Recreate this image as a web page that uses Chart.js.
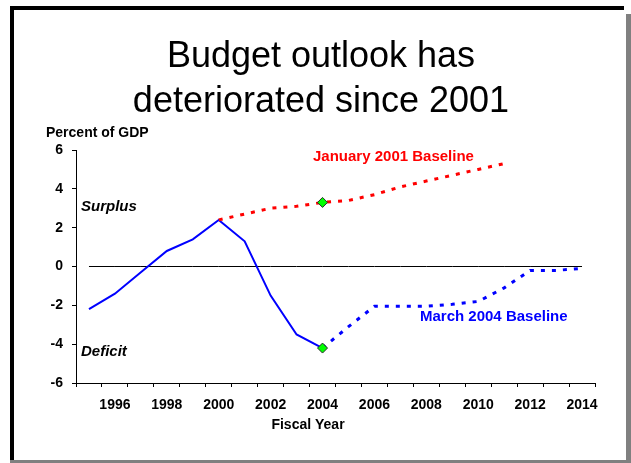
<!DOCTYPE html>
<html>
<head>
<meta charset="utf-8">
<title>Budget outlook</title>
<script src="https://cdn.jsdelivr.net/npm/chart.js@4/dist/chart.umd.min.js"></script>
<style>
  body { margin: 0; background: #fff; }
  #wrap { position: relative; width: 631px; height: 463px; overflow: hidden; }
  #budget-chart { position: absolute; left: 0; top: 0; }
  .edge { position: absolute; }
</style>
</head>
<body>
<div id="wrap">
  <canvas id="budget-chart" width="631" height="463"></canvas>
  <!-- slide frame: dark top/left, grey shadow right/bottom -->
  <div class="edge" style="left:10px;top:6px;width:614px;height:4px;background:#000"></div>
  <div class="edge" style="left:10px;top:6px;width:4px;height:455px;background:#000"></div>
  <div class="edge" style="left:626px;top:14px;width:5px;height:449px;background:#808080"></div>
  <div class="edge" style="left:10px;top:460px;width:621px;height:3px;background:#808080"></div>
</div>
<script>
// Fiscal years on the x axis
const years = ['1995', '1996', '1997', '1998', '1999', '2000', '2001', '2002', '2003', '2004',
               '2005', '2006', '2007', '2008', '2009', '2010', '2011', '2012', '2013', '2014'];

// Surplus (+) / deficit (-), percent of GDP
const actual = [-2.2, -1.4, -0.3, 0.8, 1.4, 2.4, 1.3, -1.5, -3.5, -4.2,
                null, null, null, null, null, null, null, null, null, null];
const jan2001Baseline = [null, null, null, null, null, 2.4, 2.7, 3.0, 3.1, 3.3,
                         3.4, 3.7, 4.1, 4.4, 4.7, 5.0, 5.3, null, null, null];
const mar2004Baseline = [null, null, null, null, null, null, null, null, null, -4.2,
                         -3.1, -2.05, -2.05, -2.05, -1.95, -1.8, -1.1, -0.2, -0.2, -0.1];
const zeroLine = [0, 0, 0, 0, 0, 0, 0, 0, 0, 0, 0, 0, 0, 0, 0, 0, 0, 0, 0, 0];

// y axis range and step
const yMin = -6;
const yMax = 6;
const yStep = 2;

// year that gets the green diamond on both baselines
const markerYear = '2004';
const markerIndex = years.indexOf(markerYear);

const FONT = "'Liberation Sans', Arial, Helvetica, sans-serif";
Chart.defaults.font.family = FONT;
Chart.defaults.color = '#000';

const diamondRadius = ctx => (ctx.dataIndex === markerIndex ? 5 : 0);

// title and free-floating labels
const slideText = {
    id: 'slideText',
    afterDraw(chart) {
        const ctx = chart.ctx;
        ctx.save();
        ctx.fillStyle = '#000';
        ctx.textAlign = 'center';
        ctx.textBaseline = 'alphabetic';
        ctx.font = '36px ' + FONT;
        ctx.fillText('Budget outlook has', 321, 67);
        ctx.fillText('deteriorated since 2001', 321, 112);

        ctx.textBaseline = 'middle';
        ctx.textAlign = 'left';
        ctx.font = 'bold 14px ' + FONT;
        ctx.fillText('Percent of GDP', 46, 133);

        ctx.textAlign = 'center';
        ctx.fillText('Fiscal Year', 308, 425);

        ctx.textAlign = 'left';
        ctx.font = 'italic bold 15px ' + FONT;
        ctx.fillText('Surplus', 81, 207);
        ctx.fillText('Deficit', 81, 352);

        ctx.font = 'bold 15px ' + FONT;
        ctx.fillStyle = '#ff0000';
        ctx.fillText('January 2001 Baseline', 313, 157);
        ctx.fillStyle = '#0000ff';
        ctx.fillText('March 2004 Baseline', 420, 317);
        ctx.restore();
    }
};

new Chart(document.getElementById('budget-chart'), {
    type: 'line',
    data: {
        labels: years,
        datasets: [
            {
                label: 'January 2001 Baseline',
                data: jan2001Baseline,
                borderColor: '#ff0000',
                borderWidth: 3,
                borderDash: [4, 7],
                pointRadius: diamondRadius,
                pointStyle: 'rectRot',
                pointBackgroundColor: '#00ff00',
                pointBorderColor: '#2a2a2a',
                pointBorderWidth: 1,
                tension: 0
            },
            {
                label: 'March 2004 Baseline',
                data: mar2004Baseline,
                borderColor: '#0000ff',
                borderWidth: 3,
                borderDash: [4, 7],
                pointRadius: diamondRadius,
                pointStyle: 'rectRot',
                pointBackgroundColor: '#00ff00',
                pointBorderColor: '#2a2a2a',
                pointBorderWidth: 1,
                tension: 0
            },
            {
                label: 'Actual',
                data: actual,
                borderColor: '#0000ff',
                borderWidth: 2,
                pointRadius: 0,
                tension: 0
            },
            {
                label: 'zero',
                data: zeroLine,
                borderColor: '#000',
                borderWidth: 1,
                pointRadius: 0,
                tension: 0
            }
        ]
    },
    options: {
        responsive: false,
        animation: false,
        layout: { padding: { left: 10, right: 36, top: 150, bottom: 40 } },
        plugins: {
            legend: { display: false },
            tooltip: { enabled: false },
            title: { display: false }
        },
        scales: {
            x: {
                offset: true,
                afterFit(scale) { scale.height = 40; },
                border: { display: true, color: '#000', width: 1 },
                grid: {
                    offset: true,
                    drawOnChartArea: false,
                    drawTicks: true,
                    tickLength: 4,
                    color: '#000'
                },
                ticks: {
                    autoSkip: false,
                    maxRotation: 0,
                    padding: 10,
                    font: { size: 14, weight: 'bold' },
                    color: '#000',
                    callback(value) {
                        const label = this.getLabelForValue(value);
                        return Number(label) % 2 === 0 ? label : '';
                    }
                }
            },
            y: {
                min: yMin,
                max: yMax,
                afterFit(scale) { scale.width = 66; },
                border: { display: true, color: '#000', width: 1 },
                grid: {
                    drawOnChartArea: false,
                    drawTicks: true,
                    tickLength: 4,
                    color: '#000'
                },
                ticks: {
                    stepSize: yStep,
                    padding: 9,
                    font: { size: 14, weight: 'bold' },
                    color: '#000'
                }
            }
        }
    },
    plugins: [slideText]
});
</script>
</body>
</html>
